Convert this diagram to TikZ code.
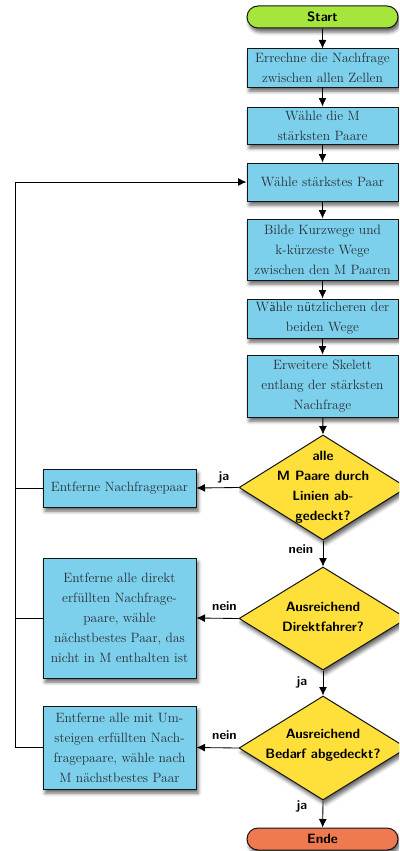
\documentclass[tikz,border=0pt]{standalone}
\usepackage{fontspec}
\usetikzlibrary{shapes.geometric,shapes.misc,arrows.meta,shadows.blur}

\definecolor{boxblue}{RGB}{125,208,236}
\definecolor{decyellow}{RGB}{255,224,58}
\definecolor{startgreen}{RGB}{166,230,60}
\definecolor{endorange}{RGB}{240,122,80}
\definecolor{edgegray}{RGB}{20,20,20}
\definecolor{inktext}{RGB}{40,48,52}

\tikzset{
  softshadow/.style={blur shadow={shadow xshift=2pt, shadow yshift=-4pt,
      shadow blur radius=3.5pt, shadow opacity=60}},
  process/.style={rectangle, draw=edgegray, line width=1pt, fill=boxblue,
      softshadow, align=center, inner sep=0pt, text=inktext,
      font=\fontsize{13.5}{20}\selectfont},
  rail box/.style={process, minimum width=151pt},
  side box/.style={process, minimum width=153pt},
  terminal/.style={rounded rectangle, draw=edgegray, line width=1pt,
      softshadow, minimum width=151pt, minimum height=22pt, inner sep=0pt,
      font=\fontsize{13.5}{16}\selectfont\sffamily\bfseries},
  decision/.style={diamond, draw=edgegray, line width=1pt, fill=decyellow,
      softshadow, minimum width=168pt, inner sep=0pt},
  dtext/.style={align=center, inner sep=0pt,
      font=\fontsize{13.5}{20}\selectfont\sffamily\bfseries},
  lbl/.style={inner sep=1pt, font=\fontsize{13}{15}\selectfont\sffamily\bfseries},
  line/.style={draw=black, line width=0.85pt},
  flow/.style={line, -{Latex[length=8.5pt,width=8pt]}},
}

\begin{document}
\begin{tikzpicture}[x=1pt, y=-1pt]
  \clip (0,0) rectangle (399,851);

  % main column
  \node[terminal, fill=startgreen] (start) at (322.5,17) {Start};
  \node[rail box, minimum height=38pt] (calc) at (322.5,68)
    {Errechne die Nachfrage\\zwischen allen Zellen};
  \node[rail box, minimum height=37pt] (topm) at (322.5,125.5)
    {Wähle die M\\stärksten Paare};
  \node[rail box, minimum height=38pt] (pick) at (322.5,182)
    {Wähle stärkstes Paar};
  \node[rail box, minimum height=61pt] (paths) at (322.5,249.5)
    {Bilde Kurzwege und\\k-kürzeste Wege\\zwischen den M Paaren};
  \node[rail box, minimum height=39pt] (useful) at (322.5,318.5)
    {W\textsf{ä}hle n\textsf{ü}tzlicheren der\\beiden Wege};
  \node[rail box, minimum height=62pt] (extend) at (322.5,386)
    {Erweitere Skelett\\entlang der stärksten\\Nachfrage};

  % decisions
  \node[decision, minimum height=105pt] (d1) at (323,487.5) {};
  \node[dtext] (d1t) at (d1) {alle\\M Paare durch\\Linien ab-\\gedeckt?};
  \node[decision, minimum height=103pt] (d2) at (323,618.5) {};
  \node[dtext] (d2t) at (323,616.5) {Ausreichend\\Direktfahrer?};
  \node[decision, minimum height=104pt] (d3) at (323,748) {};
  \node[dtext] (d3t) at (323,745.5) {Ausreichend\\Bedarf abgedeckt?};

  \node[terminal, fill=endorange] (ende) at (322.5,839) {Ende};

  % side column
  \node[side box, minimum height=38pt] (rm1) at (119.5,488)
    {Entferne Nachfragepaar};
  \node[side box, minimum height=120pt] (rm2) at (119.5,618)
    {Entferne alle direkt\\erfüllten Nachfrage-\\paare, wähle\\nächstbestes Paar, das\\nicht in M enthalten ist};
  \node[side box, minimum height=83pt] (rm3) at (119.5,747.5)
    {Entferne alle mit Um-\\steigen erfüllten Nach-\\fragepaare, wähle nach\\M nächstbestes Paar};

  % main flow
  \draw[flow] (start) -- (calc);
  \draw[flow] (calc) -- (topm);
  \draw[flow] (topm) -- (pick);
  \draw[flow] (pick) -- (paths);
  \draw[flow] (paths) -- (useful);
  \draw[flow] (useful) -- (extend);
  \draw[flow] (extend) -- (d1.north);
  \draw[flow] (d1.south) -- (d2.north);
  \draw[flow] (d2.south) -- (d3.north);
  \draw[flow] (d3.south) -- (ende);

  \draw[flow] (d1.west) -- (rm1.east);
  \draw[flow] (d2.west) -- (rm2.east);
  \draw[flow] (d3.west) -- (rm3.east);

  % return path
  \coordinate (rail) at (15,182);
  \draw[line] (rm1.west) -- (rm1.west -| rail);
  \draw[line] (rm2.west) -- (rm2.west -| rail);
  \draw[flow] (rm3.west) -| (rail) -- (pick.west);

  % branch labels
  \node[lbl] (l1) at (224,477) {ja};
  \node[lbl] (l2) at (301,549) {nein};
  \node[lbl] (l3) at (224.5,606) {nein};
  \node[lbl] (l4) at (302,682) {ja};
  \node[lbl] (l5) at (224.5,735) {nein};
  \node[lbl] (l6) at (302,806) {ja};
\end{tikzpicture}
\end{document}
